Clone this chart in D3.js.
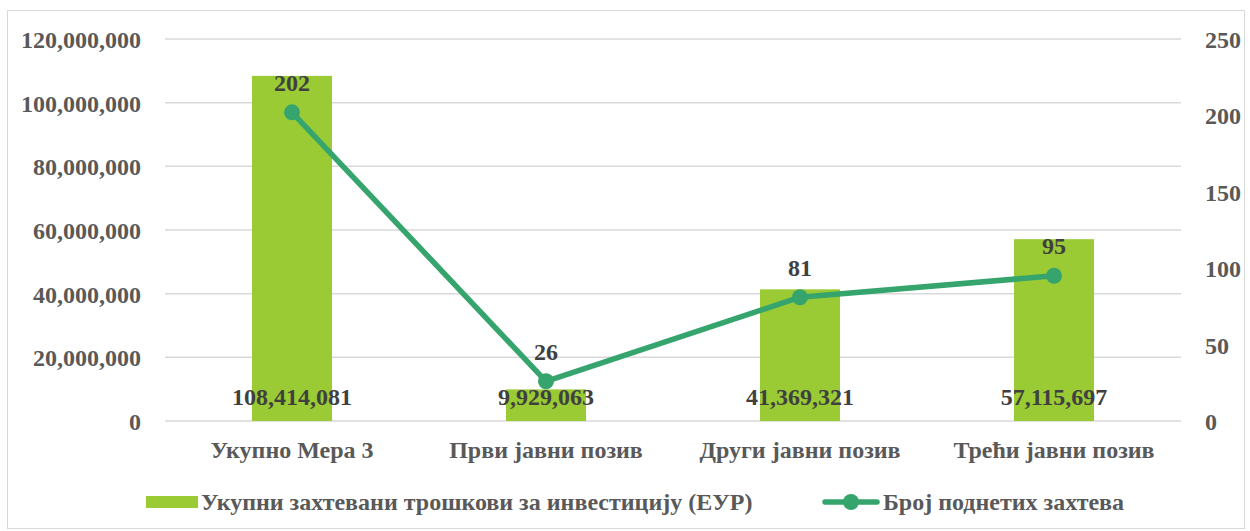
<!DOCTYPE html>
<html>
<head>
<meta charset="utf-8">
<script src="https://cdn.jsdelivr.net/npm/d3@7"></script>
<style>
  body { margin: 0; background: #fff; }
</style>
</head>
<body>
<div id="chart"></div>
<script>
// data
const categories = ["Укупно Мера 3", "Први јавни позив", "Други јавни позив", "Трећи јавни позив"];
const costs = [108414081, 9929063, 41369321, 57115697];
const requests = [202, 26, 81, 95];
const leftTicks = [0, 20000000, 40000000, 60000000, 80000000, 100000000, 120000000];
const rightTicks = [0, 50, 100, 150, 200, 250];
const barLegend = "Укупни захтевани трошкови за инвестицију (ЕУР)";
const lineLegend = "Број поднетих захтева";

const width = 1250, height = 531;
const margin = {left: 165, right: 69, top: 39, bottom: 110};
const font = "'Liberation Serif', Tinos, 'DejaVu Serif', serif";
const fs = "24px";

const barColor = "#9ACB34";
const lineColor = "#36A56D";
const axisText = "#595959";
const labelText = "#404040";

const svg = d3.select("#chart").append("svg")
    .attr("width", width)
    .attr("height", height)
    .style("font-family", font)
    .style("font-weight", "bold");

// chart border
svg.append("rect")
    .attr("x", 7.5).attr("y", 10.5)
    .attr("width", 1237).attr("height", 518)
    .attr("fill", "none")
    .attr("stroke", "#d9d9d9")
    .attr("stroke-width", 1);

const x = d3.scaleBand()
    .domain(categories)
    .range([margin.left, width - margin.right])
    .paddingInner(0.685)
    .paddingOuter(0.3425);

const xc = d3.scaleBand()
    .domain(categories)
    .range([margin.left, width - margin.right]);

const yL = d3.scaleLinear()
    .domain([0, 120000000])
    .range([height - margin.bottom, margin.top]);

const yR = d3.scaleLinear()
    .domain([0, 250])
    .range([height - margin.bottom, margin.top]);

// gridlines
svg.append("g")
  .selectAll("line")
  .data(leftTicks)
  .join("line")
    .attr("x1", margin.left)
    .attr("x2", width - margin.right)
    .attr("y1", d => yL(d))
    .attr("y2", d => yL(d))
    .attr("stroke", "#d9d9d9")
    .attr("stroke-width", 1.5);

// left axis
const leftAxis = svg.append("g")
    .attr("transform", `translate(${margin.left - 21},0)`)
    .call(d3.axisLeft(yL).tickValues(leftTicks).tickSize(0).tickFormat(d3.format(",")));
leftAxis.attr("font-family", null).attr("font-size", null);
leftAxis.select(".domain").remove();
leftAxis.selectAll("text")
    .attr("fill", axisText)
    .style("font-size", fs)
    .attr("dy", "0.35em");

// right axis
const rightAxis = svg.append("g")
    .attr("transform", `translate(${width - margin.right + 21},0)`)
    .call(d3.axisRight(yR).tickValues(rightTicks).tickSize(0));
rightAxis.attr("font-family", null).attr("font-size", null);
rightAxis.select(".domain").remove();
rightAxis.selectAll("text")
    .attr("fill", axisText)
    .style("font-size", fs)
    .attr("dy", "0.35em");

// category labels
svg.append("g")
  .selectAll("text")
  .data(categories)
  .join("text")
    .attr("x", d => xc(d) + xc.bandwidth() / 2)
    .attr("y", height - margin.bottom + 29)
    .attr("text-anchor", "middle")
    .attr("dy", "0.35em")
    .attr("fill", axisText)
    .style("font-size", fs)
    .text(d => d);

// bars
svg.append("g")
  .selectAll("rect")
  .data(costs)
  .join("rect")
    .attr("x", (d, i) => x(categories[i]))
    .attr("y", d => yL(d))
    .attr("width", x.bandwidth())
    .attr("height", d => yL(0) - yL(d))
    .attr("fill", barColor);

// bar labels (inside base)
svg.append("g")
  .selectAll("text")
  .data(costs)
  .join("text")
    .attr("x", (d, i) => xc(categories[i]) + xc.bandwidth() / 2)
    .attr("y", yL(0) - 24)
    .attr("text-anchor", "middle")
    .attr("dy", "0.35em")
    .attr("fill", labelText)
    .style("font-size", fs)
    .text(d => d3.format(",")(d));

// line
const line = d3.line()
    .x((d, i) => xc(categories[i]) + xc.bandwidth() / 2)
    .y(d => yR(d));

svg.append("path")
    .datum(requests)
    .attr("d", line)
    .attr("fill", "none")
    .attr("stroke", lineColor)
    .attr("stroke-width", 5.5)
    .attr("stroke-linejoin", "round");

svg.append("g")
  .selectAll("circle")
  .data(requests)
  .join("circle")
    .attr("cx", (d, i) => xc(categories[i]) + xc.bandwidth() / 2)
    .attr("cy", d => yR(d))
    .attr("r", 8)
    .attr("fill", lineColor);

svg.append("g")
  .selectAll("text")
  .data(requests)
  .join("text")
    .attr("x", (d, i) => xc(categories[i]) + xc.bandwidth() / 2)
    .attr("y", d => yR(d) - 30)
    .attr("text-anchor", "middle")
    .attr("dy", "0.35em")
    .attr("fill", labelText)
    .style("font-size", fs)
    .text(d => d);

// legend
const lg = svg.append("g");
lg.append("rect")
    .attr("x", 146).attr("y", 496)
    .attr("width", 52).attr("height", 12)
    .attr("fill", barColor);
lg.append("text")
    .attr("x", 201).attr("y", 502)
    .attr("dy", "0.35em")
    .attr("fill", axisText)
    .style("font-size", fs)
    .text(barLegend);
lg.append("line")
    .attr("x1", 825).attr("x2", 877)
    .attr("y1", 502).attr("y2", 502)
    .attr("stroke", lineColor)
    .attr("stroke-width", 5.5)
    .attr("stroke-linecap", "round");
lg.append("circle")
    .attr("cx", 851).attr("cy", 502)
    .attr("r", 8)
    .attr("fill", lineColor);
lg.append("text")
    .attr("x", 883).attr("y", 502)
    .attr("dy", "0.35em")
    .attr("fill", axisText)
    .style("font-size", fs)
    .text(lineLegend);
</script>
</body>
</html>
